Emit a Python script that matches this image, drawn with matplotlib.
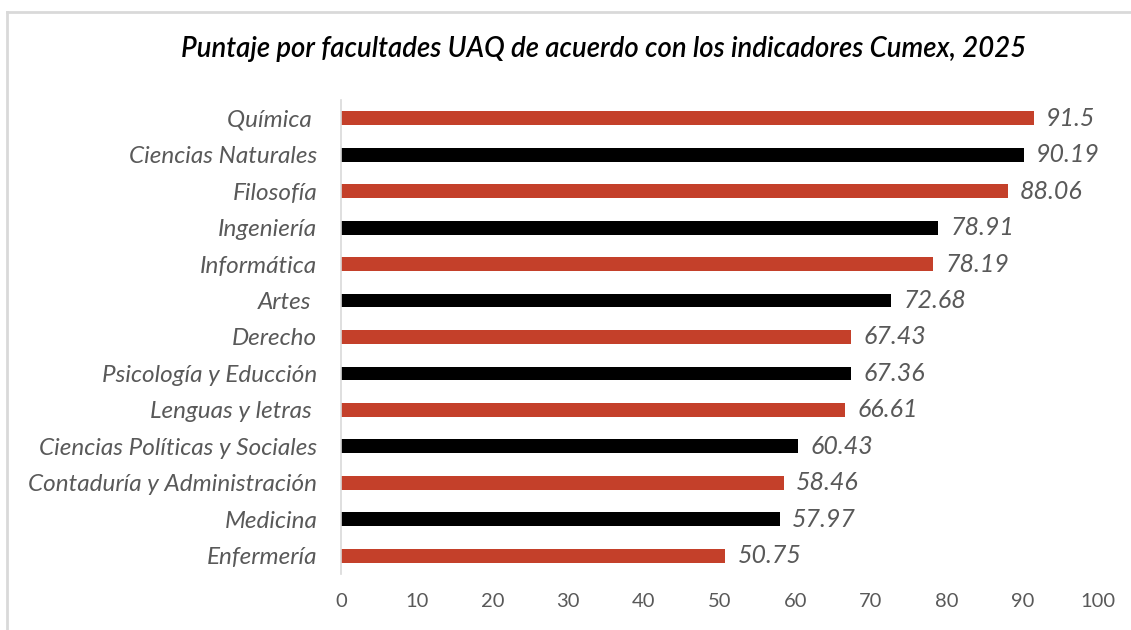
import matplotlib.pyplot as plt
from matplotlib.lines import Line2D

plt.rcParams["font.family"] = ["Lato", "DejaVu Sans"]

facultades = ["Química ", "Ciencias Naturales", "Filosofía", "Ingeniería", "Informática",
              "Artes ", "Derecho", "Psicología y Educción", "Lenguas y letras ",
              "Ciencias Políticas y Sociales", "Contaduría y Administración",
              "Medicina", "Enfermería"]
puntaje = [91.5, 90.19, 88.06, 78.91, 78.19, 72.68, 67.43, 67.36, 66.61,
           60.43, 58.46, 57.97, 50.75]
etiquetas = ["91.5", "90.19", "88.06", "78.91", "78.19", "72.68", "67.43",
             "67.36", "66.61", "60.43", "58.46", "57.97", "50.75"]

RED = "#C4402A"
GRAY = "#595959"
colors = [RED if i % 2 == 0 else "black" for i in range(len(puntaje))]

fig = plt.figure(figsize=(11.31, 6.30), dpi=100)
ax = fig.add_axes([0.3015, 0.0889, 0.6693, 0.7524])

pos = list(range(len(puntaje)))
ax.barh(pos, puntaje, height=0.38, color=colors)
for y, v, t in zip(pos, puntaje, etiquetas):
    ax.annotate(t, (v, y), xytext=(9, 0), textcoords="offset points",
                va="center", ha="left", fontsize=18, style="italic", color=GRAY)

ax.set_xlim(0, 100)
ax.set_ylim(len(puntaje) - 0.5, -0.5)
ax.set_xticks(range(0, 101, 10))
ax.set_yticks(pos)
ax.set_yticklabels(facultades, fontsize=17.5, style="italic", color=GRAY)
ax.tick_params(axis="y", length=0, pad=17)
ax.tick_params(axis="x", length=0, pad=14, labelsize=14.5, labelcolor=GRAY)
for s in ["top", "right", "bottom"]:
    ax.spines[s].set_visible(False)
ax.spines["left"].set_color("#D9D9D9")
ax.spines["left"].set_linewidth(1.2)

fig.text(0.534, 0.922, "Puntaje por facultades UAQ de acuerdo con los indicadores Cumex, 2025",
         ha="center", va="center", fontsize=19.8, style="italic", weight="semibold", color="black")

# marco exterior
fig.add_artist(Line2D([7 / 1131, 1], [1 - 12 / 630, 1 - 12 / 630], transform=fig.transFigure,
                      color="#D9D9D9", lw=2))
fig.add_artist(Line2D([7 / 1131, 7 / 1131], [0, 1 - 12 / 630], transform=fig.transFigure,
                      color="#D9D9D9", lw=2))

fig.savefig("out.png", dpi=100)
